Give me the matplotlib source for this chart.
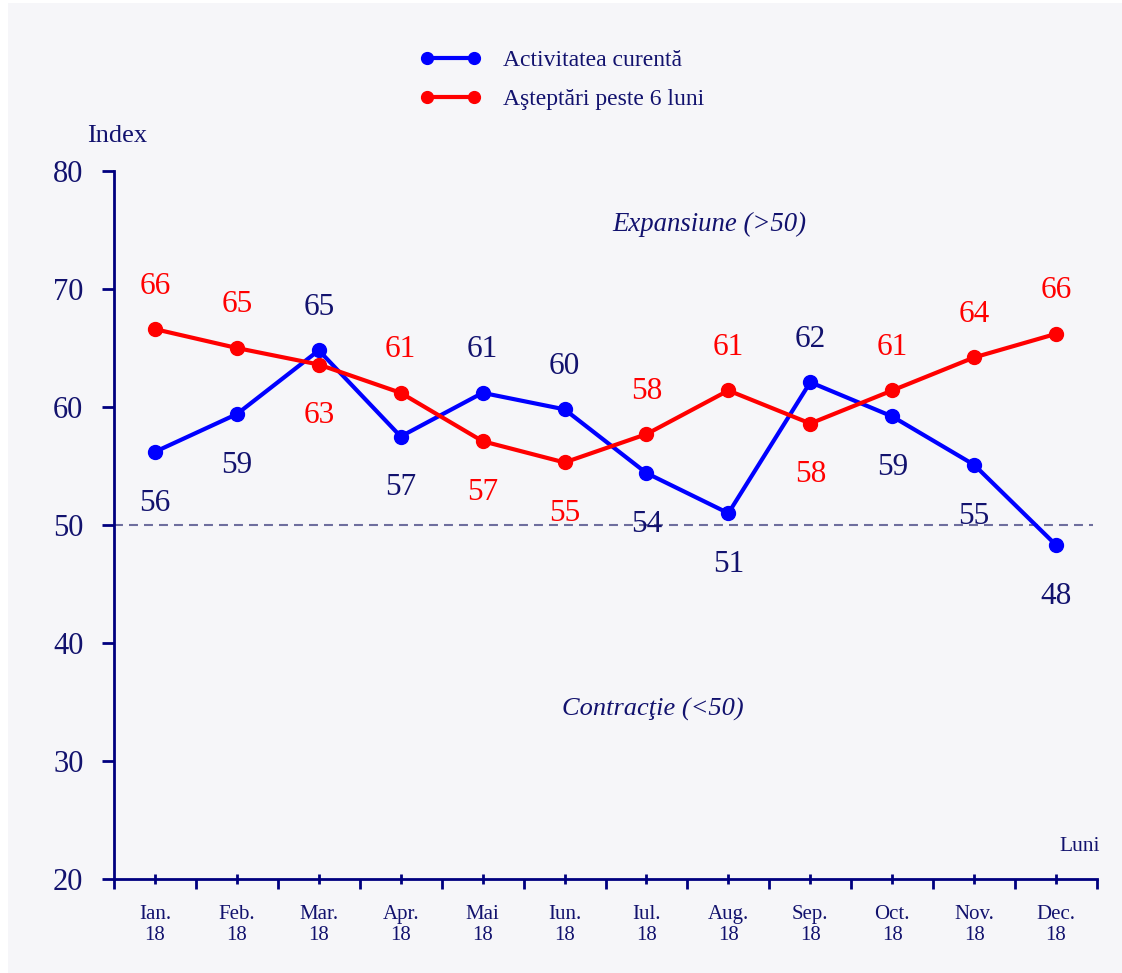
import numpy as np
import matplotlib.pyplot as plt
from matplotlib.patches import Rectangle

months = ["Ian.", "Feb.", "Mar.", "Apr.", "Mai", "Iun.", "Iul.", "Aug.", "Sep.", "Oct.", "Nov.", "Dec."]
year = "18"

# activitatea curenta (blue)
current = [56.2, 59.4, 64.8, 57.5, 61.2, 59.8, 54.4, 51.0, 62.1, 59.2, 55.1, 48.3]
current_labels = [56, 59, 65, 57, 61, 60, 54, 51, 62, 59, 55, 48]
current_pos = ["below", "below", "above", "below", "above", "above", "below", "below", "above", "below", "below", "below"]

# asteptari peste 6 luni (red)
expect = [66.6, 65.0, 63.6, 61.2, 57.1, 55.3, 57.7, 61.4, 58.6, 61.4, 64.2, 66.2]
expect_labels = [66, 65, 63, 61, 57, 55, 58, 61, 58, 61, 64, 66]
expect_pos = ["above", "above", "below", "above", "below", "below", "above", "above", "below", "above", "above", "above"]

navy = "#12126e"
axis_col = "#00007f"
bg = "#f6f6f9"

plt.rcParams['font.family'] = ['Liberation Serif', 'DejaVu Serif']

fig = plt.figure(figsize=(11.22, 9.73), dpi=100)
fig.patch.set_facecolor("white")
fig.patches.append(Rectangle((8 / 1122, 0), 1, 1 - 3 / 973, transform=fig.transFigure,
                             facecolor=bg, edgecolor="none", zorder=-10))

ax = fig.add_axes([114 / 1122, 1 - 879 / 973, 983 / 1122, 708 / 973])
ax.set_facecolor(bg)

x = np.arange(len(months))

ax.axhline(50, color="#6e6e9e", lw=1.5, dashes=(4.3, 2.9), xmax=0.996, zorder=1)

ax.plot(x, current, color="#0000ff", lw=3, marker="o", ms=10, label="Activitatea curentă", zorder=3)
ax.plot(x, expect, color="#ff0000", lw=3, marker="o", ms=10, label="Aşteptări peste 6 luni", zorder=4)

def put_labels(vals, labels, pos, color):
    for xi, v, lab, p in zip(x, vals, labels, pos):
        dy = 31 if p == "above" else -37
        ax.annotate(str(lab), (xi, v), xytext=(0, dy), textcoords="offset points",
                    ha="center", va="center", fontsize=22.5, color=color, zorder=5)

put_labels(current, current_labels, current_pos, navy)
put_labels(expect, expect_labels, expect_pos, "#ff0000")

ax.set_xlim(-0.5, 11.5)
ax.set_ylim(20, 80)
ax.set_yticks([20, 30, 40, 50, 60, 70, 80])
ax.set_xticks(x)
ax.set_xticklabels([m + "\n" + year for m in months], fontsize=15, color=navy, linespacing=1.15)
ax.set_xticks(np.arange(-0.5, 12, 1), minor=True)

ax.tick_params(axis="y", direction="out", length=9, width=2, color=axis_col, pad=13,
               labelsize=22, labelcolor=navy)
ax.tick_params(axis="x", which="major", direction="inout", length=7, width=2, color=axis_col, pad=15)
ax.tick_params(axis="x", which="minor", direction="out", length=7, width=2, color=axis_col)

for s in ["top", "right"]:
    ax.spines[s].set_visible(False)
for s in ["left", "bottom"]:
    ax.spines[s].set_color(axis_col)
    ax.spines[s].set_linewidth(2)

ax.text(0.003, 1.049, "Index", transform=ax.transAxes, ha="center", va="center", fontsize=19, color=navy)
ax.text(0.982, 0.046, "Luni", transform=ax.transAxes, ha="center", va="center", fontsize=15.5, color=navy)
ax.text(0.606, 0.924, "Expansiune (>50)", transform=ax.transAxes, ha="center", va="center",
        fontsize=19.3, style="italic", color=navy)
ax.text(0.548, 0.24, "Contracţie (<50)", transform=ax.transAxes, ha="center", va="center",
        fontsize=19, style="italic", color=navy)

leg = fig.legend(loc="upper left", bbox_to_anchor=(420 / 1122, 0.949), frameon=False,
                 fontsize=17, handlelength=2.57, handletextpad=0.93, labelspacing=0.75,
                 borderpad=0, borderaxespad=0, numpoints=2, markerscale=0.85)
for t in leg.get_texts():
    t.set_color(navy)

fig.savefig("out.png", dpi=100, facecolor=fig.get_facecolor())
